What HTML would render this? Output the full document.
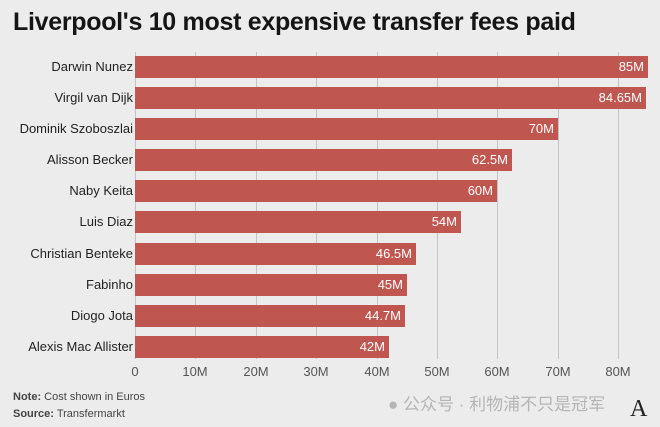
<!DOCTYPE html>
<html><head><meta charset="utf-8"><style>
body{margin:0;width:660px;height:427px;background:#ececec;font-family:"Liberation Sans","Noto Sans CJK SC",sans-serif;overflow:hidden;position:relative}
.t{position:absolute;left:13px;top:8px;font-size:25px;font-weight:bold;color:#151515;letter-spacing:-0.3px}
.l{position:absolute;right:527px;font-size:13px;color:#222;white-space:nowrap;line-height:22px}
.b{position:absolute;left:135px;height:22px;background:#bf5650}
.v{position:absolute;font-size:13px;color:#fff;line-height:22px;text-align:right}
.g{position:absolute;top:52px;height:307px;width:1px;background:#c4c4c4}
.x{position:absolute;top:364px;font-size:13px;color:#555;width:60px;text-align:center}
.n{position:absolute;left:13px;font-size:11px;color:#444}
</style></head><body>
<div class="t">Liverpool's 10 most expensive transfer fees paid</div>
<div class="g" style="left:135px"></div><div class="g" style="left:195px"></div><div class="g" style="left:256px"></div><div class="g" style="left:316px"></div><div class="g" style="left:377px"></div><div class="g" style="left:437px"></div><div class="g" style="left:497px"></div><div class="g" style="left:558px"></div><div class="g" style="left:618px"></div>
<div class="x" style="left:105px">0</div><div class="x" style="left:165px">10M</div><div class="x" style="left:226px">20M</div><div class="x" style="left:286px">30M</div><div class="x" style="left:347px">40M</div><div class="x" style="left:407px">50M</div><div class="x" style="left:467px">60M</div><div class="x" style="left:528px">70M</div><div class="x" style="left:588px">80M</div>

<div class="l" style="top:56px">Darwin Nunez</div><div class="b" style="top:56px;width:513px"></div><div class="v" style="top:56px;left:548px;width:96px">85M</div>
<div class="l" style="top:87px">Virgil van Dijk</div><div class="b" style="top:87px;width:511px"></div><div class="v" style="top:87px;left:546px;width:96px">84.65M</div>
<div class="l" style="top:118px">Dominik Szoboszlai</div><div class="b" style="top:118px;width:423px"></div><div class="v" style="top:118px;left:458px;width:96px">70M</div>
<div class="l" style="top:149px">Alisson Becker</div><div class="b" style="top:149px;width:377px"></div><div class="v" style="top:149px;left:412px;width:96px">62.5M</div>
<div class="l" style="top:180px">Naby Keita</div><div class="b" style="top:180px;width:362px"></div><div class="v" style="top:180px;left:397px;width:96px">60M</div>
<div class="l" style="top:211px">Luis Diaz</div><div class="b" style="top:211px;width:326px"></div><div class="v" style="top:211px;left:361px;width:96px">54M</div>
<div class="l" style="top:243px">Christian Benteke</div><div class="b" style="top:243px;width:281px"></div><div class="v" style="top:243px;left:316px;width:96px">46.5M</div>
<div class="l" style="top:274px">Fabinho</div><div class="b" style="top:274px;width:272px"></div><div class="v" style="top:274px;left:307px;width:96px">45M</div>
<div class="l" style="top:305px">Diogo Jota</div><div class="b" style="top:305px;width:270px"></div><div class="v" style="top:305px;left:305px;width:96px">44.7M</div>
<div class="l" style="top:336px">Alexis Mac Allister</div><div class="b" style="top:336px;width:254px"></div><div class="v" style="top:336px;left:289px;width:96px">42M</div>

<div class="n" style="top:391px"><b>Note:</b> Cost shown in Euros</div>
<div class="n" style="top:408px"><b>Source:</b> Transfermarkt</div>
<div style="position:absolute;left:388px;top:390px;font-size:17px;color:#b5b5b5">● 公众号 · 利物浦不只是冠军</div>
<div style="position:absolute;left:630px;top:396px;font-size:24px;font-family:'Liberation Serif',serif;color:#222">A</div>
</body></html>
